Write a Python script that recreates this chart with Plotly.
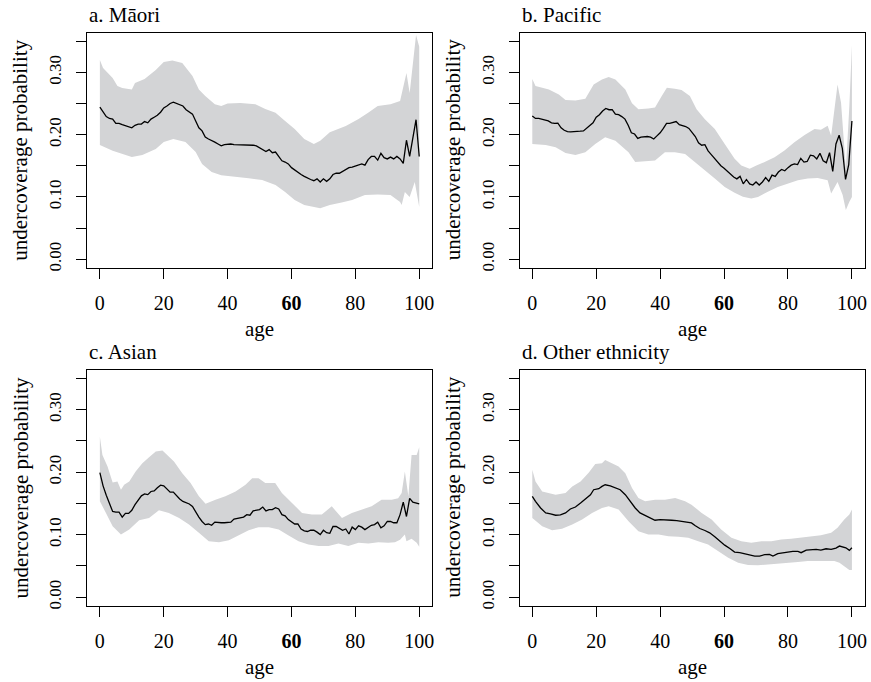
import plotly.graph_objects as go

# ---- Panel a: Māori ----
age_a = list(range(0, 101))
est_a = [0.244, 0.236, 0.229, 0.226, 0.225, 0.218, 0.218, 0.216, 0.214, 0.213,
         0.211, 0.215, 0.217, 0.217, 0.221, 0.219, 0.225, 0.228, 0.231, 0.236,
         0.243, 0.246, 0.250, 0.252, 0.250, 0.248, 0.246, 0.240, 0.236, 0.233,
         0.222, 0.211, 0.206, 0.196, 0.193, 0.191, 0.188, 0.185, 0.182, 0.184,
         0.185, 0.185, 0.184, 0.184, 0.184, 0.184, 0.184, 0.184, 0.183, 0.182,
         0.179, 0.176, 0.173, 0.176, 0.171, 0.172, 0.165, 0.158, 0.156, 0.153,
         0.147, 0.143, 0.140, 0.136, 0.133, 0.130, 0.128, 0.126, 0.129, 0.124,
         0.129, 0.125, 0.129, 0.136, 0.138, 0.138, 0.141, 0.145, 0.147, 0.148,
         0.150, 0.151, 0.153, 0.151, 0.160, 0.165, 0.165, 0.159, 0.170, 0.163,
         0.161, 0.164, 0.161, 0.165, 0.161, 0.154, 0.191, 0.165, 0.195, 0.224,
         0.165]
up_age_a = [0, 1, 4, 5.5, 7, 10, 11, 14, 17.5, 20, 22.7, 25.8, 29, 31, 33, 36, 38,
            40, 44, 48.7, 51.8, 55, 58, 61, 64, 67, 69, 72, 77, 81, 84, 87, 91,
            94, 96, 97, 99, 100]
up_a = [0.320, 0.307, 0.291, 0.278, 0.275, 0.2725, 0.283, 0.2895, 0.304, 0.3165,
        0.319, 0.315, 0.294, 0.2725, 0.262, 0.249, 0.246, 0.250, 0.251, 0.249,
        0.241, 0.235, 0.222, 0.209, 0.193, 0.185, 0.190, 0.204, 0.214, 0.225,
        0.235, 0.246, 0.249, 0.254, 0.299, 0.267, 0.360, 0.341]
lo_age_a = [0, 4, 7, 10, 13.3, 17.5, 20, 23, 26.8, 30, 32, 35, 38, 42.5, 46.6,
            50.8, 55, 58, 61, 64, 67, 69, 72, 75.7, 79, 83, 87, 91, 94, 94.5,
            95.5, 97, 98.6, 100]
lo_a = [0.1835, 0.174, 0.169, 0.164, 0.1675, 0.177, 0.188, 0.193, 0.188, 0.172,
        0.153, 0.140, 0.135, 0.132, 0.130, 0.127, 0.119, 0.108, 0.095, 0.087,
        0.084, 0.082, 0.087, 0.091, 0.095, 0.103, 0.104, 0.103, 0.092, 0.087,
        0.108, 0.100, 0.124, 0.084]

# ---- Panel b: Pacific ----
age_b = list(range(0, 101))
est_b = [0.230, 0.226, 0.226, 0.225, 0.224, 0.222, 0.219, 0.218, 0.2185, 0.211,
         0.207, 0.205, 0.2045, 0.2045, 0.205, 0.2055, 0.206, 0.210, 0.214, 0.219,
         0.228, 0.232, 0.238, 0.242, 0.240, 0.240, 0.233, 0.232, 0.229, 0.225,
         0.215, 0.203, 0.201, 0.194, 0.196, 0.197, 0.197, 0.196, 0.193, 0.198,
         0.203, 0.210, 0.218, 0.218, 0.219, 0.221, 0.216, 0.215, 0.213, 0.210,
         0.204, 0.197, 0.187, 0.183, 0.184, 0.174, 0.168, 0.162, 0.155, 0.150,
         0.146, 0.141, 0.136, 0.132, 0.129, 0.133, 0.121, 0.128, 0.121, 0.119,
         0.124, 0.119, 0.124, 0.131, 0.125, 0.135, 0.133, 0.140, 0.144, 0.142,
         0.147, 0.151, 0.153, 0.152, 0.162, 0.156, 0.157, 0.167, 0.166, 0.161,
         0.170, 0.158, 0.155, 0.171, 0.141, 0.185, 0.199, 0.178, 0.128, 0.152,
         0.222]
up_age_b = [0, 1, 5.2, 8.3, 10.4, 13.5, 16.6, 19.2, 21.8, 23.9, 26, 29.1, 31.2,
            33.2, 36.3, 38.4, 40.5, 42.1, 44.6, 46.7, 49.3, 51.4, 54, 57.1, 60.2,
            63.3, 65.4, 68, 70.1, 72.7, 75.8, 78.9, 82, 85.2, 88.3, 90.3, 92.4,
            93.5, 95.5, 96.6, 98.1, 99.2, 100]
up_b = [0.2895, 0.278, 0.2725, 0.2646, 0.2556, 0.255, 0.2577, 0.2805, 0.2884,
        0.2927, 0.2884, 0.2725, 0.2503, 0.2407, 0.2418, 0.2434, 0.262, 0.2752,
        0.2736, 0.2715, 0.262, 0.2407, 0.2248, 0.2089, 0.185, 0.1612, 0.1506,
        0.1453, 0.1506, 0.1559, 0.1638, 0.1744, 0.1877, 0.1994, 0.2089, 0.208,
        0.2142, 0.1983, 0.2805, 0.2513, 0.1453, 0.246, 0.344]
lo_age_b = [0, 4.2, 7.3, 10.4, 13.5, 16.6, 19.7, 22.8, 26, 30.1, 32.2, 35.3, 38.4,
            41.5, 44.6, 47.8, 50.9, 54, 57.1, 60.2, 63.3, 65.9, 68.5, 70.6, 73.7,
            76.8, 79.9, 83.1, 86.2, 89.3, 92.4, 93.5, 95.5, 97.1, 98.1, 99.2, 100]
lo_b = [0.185, 0.1835, 0.1797, 0.1707, 0.1675, 0.1718, 0.185, 0.1957, 0.1903,
        0.1718, 0.1559, 0.157, 0.1585, 0.1718, 0.1718, 0.1691, 0.1559, 0.1426,
        0.1294, 0.1161, 0.1066, 0.1002, 0.0976, 0.100, 0.1082, 0.1161, 0.1214,
        0.1267, 0.1294, 0.1304, 0.1267, 0.1055, 0.124, 0.1029, 0.079, 0.0923,
        0.100]

# ---- Panel c: Asian ----
age_c = list(range(0, 101))
est_c = [0.199, 0.178, 0.163, 0.150, 0.137, 0.136, 0.136, 0.128, 0.134, 0.134,
         0.139, 0.148, 0.156, 0.162, 0.165, 0.164, 0.169, 0.170, 0.175, 0.179,
         0.178, 0.173, 0.168, 0.168, 0.162, 0.157, 0.153, 0.151, 0.149, 0.145,
         0.136, 0.128, 0.121, 0.116, 0.117, 0.115, 0.120, 0.119, 0.119, 0.119,
         0.119, 0.120, 0.125, 0.126, 0.127, 0.128, 0.132, 0.131, 0.138, 0.139,
         0.140, 0.144, 0.138, 0.140, 0.140, 0.143, 0.141, 0.132, 0.130, 0.124,
         0.120, 0.117, 0.117, 0.109, 0.106, 0.105, 0.107, 0.107, 0.104, 0.100,
         0.107, 0.103, 0.102, 0.113, 0.113, 0.110, 0.107, 0.109, 0.101, 0.112,
         0.108, 0.114, 0.112, 0.108, 0.112, 0.115, 0.116, 0.120, 0.111, 0.114,
         0.121, 0.121, 0.119, 0.119, 0.132, 0.152, 0.129, 0.158, 0.152, 0.151,
         0.149]
up_age_c = [0, 0.8, 2.4, 4, 5.5, 6.6, 7.6, 9.2, 11.2, 13.3, 15.4, 17.5, 19.6,
            21.6, 23.2, 25.8, 28.4, 31, 33.1, 36.2, 39.3, 42.5, 45.6, 47.7, 49.7,
            51.8, 54.9, 57, 60.1, 63.3, 66.4, 69.5, 72.6, 75.8, 78.9, 82, 85.1,
            88.2, 91.4, 93.4, 94.5, 95.5, 96.6, 97.6, 99.2, 100]
up_c = [0.2566, 0.2275, 0.2089, 0.1835, 0.185, 0.1718, 0.1797, 0.185, 0.201,
        0.2142, 0.2238, 0.2328, 0.2344, 0.2248, 0.2169, 0.1983, 0.1824, 0.1612,
        0.1495, 0.1559, 0.1612, 0.1691, 0.1797, 0.1903, 0.1903, 0.1824, 0.1824,
        0.1665, 0.1506, 0.1347, 0.132, 0.132, 0.1453, 0.1267, 0.1347, 0.140,
        0.1453, 0.1559, 0.1559, 0.158, 0.1665, 0.201, 0.1612, 0.2275, 0.2275,
        0.2397]
lo_age_c = [0, 1.9, 4, 6.6, 9.2, 12.3, 15.4, 18.5, 21.6, 24.8, 27.9, 31, 34.1,
            37.3, 40.4, 43.5, 46.6, 49.7, 52.9, 56, 59.1, 62.2, 65.3, 68.5, 71.6,
            74.7, 77.8, 81, 84.1, 87.2, 90.3, 92.4, 94, 95.5, 96, 97.6, 99.2, 100]
lo_c = [0.1532, 0.1347, 0.1135, 0.1002, 0.1082, 0.123, 0.1267, 0.1389, 0.1347,
        0.1267, 0.1161, 0.1029, 0.0896, 0.088, 0.0912, 0.0986, 0.1071, 0.1119,
        0.1119, 0.1082, 0.0986, 0.0896, 0.0843, 0.0817, 0.0817, 0.0859, 0.0817,
        0.087, 0.0859, 0.088, 0.087, 0.088, 0.092, 0.1002, 0.0896, 0.0933, 0.087,
        0.0806]

# ---- Panel d: Other ethnicity ----
age_d = [0, 1, 2.6, 4.2, 5.7, 7.3, 8.8, 10.4, 11.9, 13.5, 15.1, 16.6, 18.2, 19.2,
         20.8, 21.8, 22.8, 24.4, 26, 27.5, 29.1, 30.6, 32.2, 33.7, 35.3, 36.9,
         38.4, 40, 41.5, 43.6, 45.2, 46.7, 47.8, 48.8, 49.8, 50.9, 52.4, 54,
         55.5, 57.1, 58.7, 60.2, 61.8, 63.3, 64.9, 66.5, 68, 69.6, 71.1, 72.7,
         74.2, 75.3, 76.8, 78.4, 80, 81.5, 83.1, 84.1, 85.7, 87.2, 88.8, 90.3,
         91.9, 93.5, 95, 96.1, 97.1, 98.1, 99.2, 100]
est_d = [0.1612, 0.1532, 0.1426, 0.1347, 0.1331, 0.131, 0.1315, 0.1347, 0.141,
         0.1442, 0.1506, 0.1569, 0.1638, 0.1718, 0.1734, 0.1771, 0.1797, 0.1781,
         0.1755, 0.1718, 0.1638, 0.1532, 0.1426, 0.1347, 0.1304, 0.1267, 0.123,
         0.1241, 0.1241, 0.123, 0.1225, 0.1214, 0.1198, 0.1198, 0.1188, 0.1145,
         0.1098, 0.1066, 0.1029, 0.0965, 0.0896, 0.0832, 0.0779, 0.0721, 0.0711,
         0.0695, 0.0668, 0.0657, 0.0657, 0.0679, 0.0684, 0.0657, 0.0695, 0.0711,
         0.0721, 0.0732, 0.0732, 0.0711, 0.0753, 0.0764, 0.0764, 0.0753, 0.0774,
         0.0764, 0.0785, 0.0817, 0.0806, 0.079, 0.0748, 0.079]
up_age_d = [0, 1, 3.1, 5.2, 7.3, 10.4, 12.5, 15.1, 17.7, 19.7, 21.8, 22.8, 24.9,
            27, 29.1, 31.2, 33.2, 35.3, 38.4, 41.5, 44.7, 47.8, 49.8, 53, 56.1,
            59.1, 62.3, 65.4, 68.5, 71.7, 74.8, 77.9, 81, 84.1, 87.2, 90.3, 93.5,
            95.5, 97.6, 99.2, 100]
up_d = [0.2036, 0.185, 0.1691, 0.1665, 0.1638, 0.1665, 0.1771, 0.185, 0.1994,
        0.2131, 0.2142, 0.2195, 0.2142, 0.2089, 0.1983, 0.1744, 0.1585, 0.1532,
        0.1559, 0.1559, 0.1585, 0.1532, 0.1479, 0.1347, 0.1241, 0.1082, 0.0949,
        0.0896, 0.087, 0.0896, 0.0896, 0.0923, 0.0933, 0.0949, 0.0976, 0.0992,
        0.1029, 0.1108, 0.1241, 0.132, 0.140]
lo_age_d = [0, 3.1, 6.2, 9.3, 12.5, 15.6, 18.7, 21.8, 23.9, 27, 30.1, 33.2, 36.3,
            39.5, 42.6, 45.7, 48.8, 51.9, 55, 58.2, 61.3, 64.4, 67.5, 70.6, 73.7,
            76.8, 80, 83.1, 86.2, 89.3, 92.4, 94.5, 96.1, 97.6, 99.2, 100]
lo_d = [0.1267, 0.1135, 0.1071, 0.1092, 0.1161, 0.1241, 0.1347, 0.1426, 0.1453,
        0.140, 0.1214, 0.1055, 0.1002, 0.1002, 0.0976, 0.0965, 0.0949, 0.0896,
        0.0843, 0.0737, 0.0631, 0.0551, 0.0514, 0.0509, 0.0525, 0.0541, 0.0551,
        0.0562, 0.0578, 0.0578, 0.0578, 0.0578, 0.0551, 0.0498, 0.0435, 0.0435]

panel_titles = ["a. Māori", "b. Pacific", "c. Asian", "d. Other ethnicity"]
x_tick_vals = [0, 20, 40, 60, 80, 100]
x_tick_text = ["0", "20", "40", "<b>60</b>", "80", "100"]
y_tick_vals = [0.00, 0.05, 0.10, 0.15, 0.20, 0.25, 0.30, 0.35]
y_tick_text = ["0.00", "", "0.10", "", "0.20", "", "0.30", ""]
x_title = "age"
y_title = "undercoverage probability"

panels = [
    (age_a, est_a, up_age_a, up_a, lo_age_a, lo_a),
    (age_b, est_b, up_age_b, up_b, lo_age_b, lo_b),
    (age_c, est_c, up_age_c, up_c, lo_age_c, lo_c),
    (age_d, est_d, up_age_d, up_d, lo_age_d, lo_d),
]

W, H = 871, 682
FONT = "Liberation Serif"
BAND = "#d3d4d6"

# plot-box positions in pixels: (left, right, top, bottom)
col_px = [(87.3, 433.0), (520.7, 866.7)]
row_px = [(32.7, 269.5), (371.7, 609.5)]

fig = go.Figure()
annotations = []

for i, (ag, est, ua, up, la, lo) in enumerate(panels):
    r, c = divmod(i, 2)
    n = i + 1
    xa = "x" if n == 1 else f"x{n}"
    ya = "y" if n == 1 else f"y{n}"
    x0, x1 = col_px[c]
    y0, y1 = row_px[r]

    # confidence band as a closed polygon
    fig.add_trace(go.Scatter(
        x=list(ua) + list(reversed(la)),
        y=list(up) + list(reversed(lo)),
        fill="toself", fillcolor=BAND, mode="lines",
        line=dict(width=0, color=BAND), hoverinfo="skip",
        showlegend=False, xaxis=xa, yaxis=ya))
    # point estimate
    fig.add_trace(go.Scatter(
        x=ag, y=est, mode="lines", line=dict(color="black", width=1.3),
        showlegend=False, xaxis=xa, yaxis=ya))

    axis_common = dict(showline=True, mirror=True, linecolor="black",
                       linewidth=1, ticks="outside", ticklen=10,
                       tickcolor="black", tickwidth=1, showgrid=False,
                       zeroline=False, fixedrange=True)
    fig.update_layout(**{
        ("xaxis" if n == 1 else f"xaxis{n}"): dict(
            domain=[x0 / W, x1 / W], range=[-4, 104],
            tickvals=x_tick_vals, ticktext=x_tick_text,
            tickfont=dict(family=FONT, size=20, color="black"),
            ticklabelstandoff=7, anchor=ya, **axis_common),
        ("yaxis" if n == 1 else f"yaxis{n}"): dict(
            domain=[1 - y1 / H, 1 - y0 / H], range=[-0.014, 0.364],
            tickvals=y_tick_vals, ticktext=y_tick_text, tickangle=-90,
            tickfont=dict(family=FONT, size=17, color="black"),
            ticklabelstandoff=8, anchor=xa, **axis_common),
    })

    # panel title, left-aligned on the box edge
    annotations.append(dict(
        text=panel_titles[i], x=x0 / W, y=1 - (y0 - 18) / H,
        xref="paper", yref="paper", xanchor="left", yanchor="middle",
        showarrow=False, font=dict(family=FONT, size=21, color="black")))
    # x-axis title
    annotations.append(dict(
        text=x_title, x=(x0 + x1) / 2 / W, y=1 - (y1 + 61) / H,
        xref="paper", yref="paper", xanchor="center", yanchor="middle",
        showarrow=False, font=dict(family=FONT, size=21, color="black")))
    # y-axis title
    annotations.append(dict(
        text=y_title, x=(x0 - 66.6) / W, y=1 - (y0 + y1) / 2 / H,
        xref="paper", yref="paper", xanchor="center", yanchor="middle",
        textangle=-90, showarrow=False,
        font=dict(family=FONT, size=21, color="black")))

fig.update_layout(
    width=W, height=H,
    margin=dict(l=0, r=0, t=0, b=0),
    paper_bgcolor="white", plot_bgcolor="white",
    annotations=annotations,
)

fig.write_html("out.html")
